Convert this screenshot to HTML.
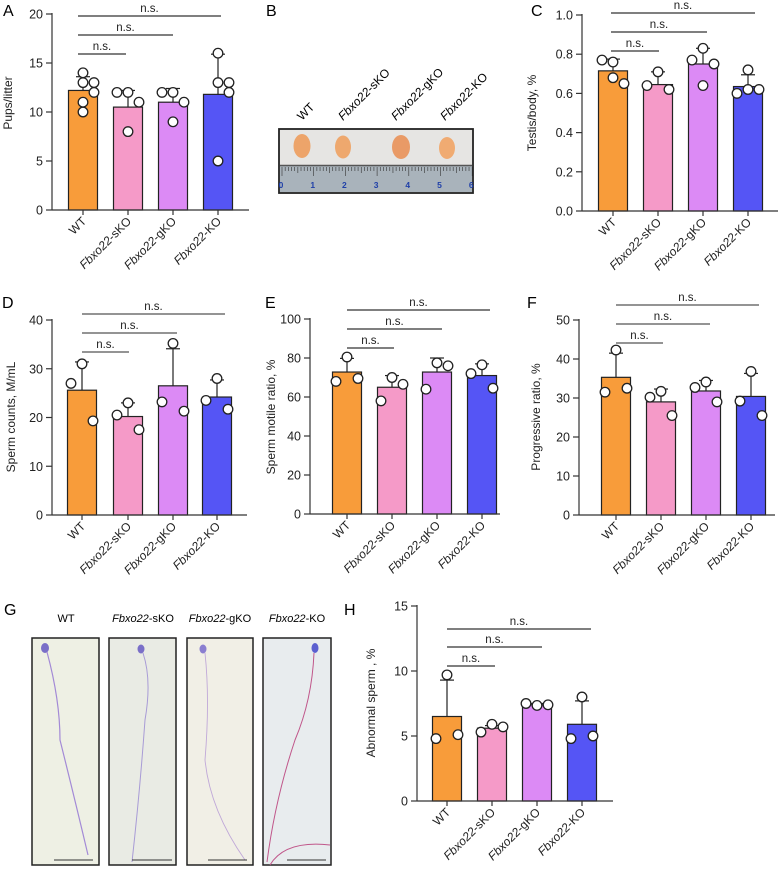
<!DOCTYPE html>
<html><head><meta charset="utf-8">
<style>
html,body{margin:0;padding:0;background:#fff;}
svg{display:block;font-family:"Liberation Sans",Arial,sans-serif;}
</style></head>
<body>
<svg id="fig" width="784" height="874" viewBox="0 0 784 874" xmlns="http://www.w3.org/2000/svg">
  <text x="3" y="16" font-size="16">A</text>
  <text x="266" y="16" font-size="16">B</text>
  <text x="531" y="16" font-size="16">C</text>
  <text x="2" y="308" font-size="16">D</text>
  <text x="265" y="308" font-size="16">E</text>
  <text x="527" y="308" font-size="16">F</text>
  <text x="4" y="615" font-size="16">G</text>
  <text x="344" y="615" font-size="16">H</text>

  <g>
    <text transform="translate(302,121) rotate(-45)" font-size="12">WT</text>
    <text transform="translate(343,121) rotate(-45)" font-size="12" font-style="italic">Fbxo22<tspan font-style="normal">-sKO</tspan></text>
    <text transform="translate(396,121) rotate(-45)" font-size="12" font-style="italic">Fbxo22<tspan font-style="normal">-gKO</tspan></text>
    <text transform="translate(445,121) rotate(-45)" font-size="12" font-style="italic">Fbxo22<tspan font-style="normal">-KO</tspan></text>
    <rect x="279" y="129" width="194" height="64" fill="#e6e5e3" stroke="#222" stroke-width="1.8"/>
    <rect x="280" y="165" width="192" height="27" fill="#a9b3bb"/>
    <line x1="280" y1="165.5" x2="472" y2="165.5" stroke="#555" stroke-width="1.5"/>
    <ellipse cx="302" cy="146" rx="8.5" ry="12" fill="#eda46a"/>
    <ellipse cx="343" cy="147" rx="8" ry="11.5" fill="#eea86e"/>
    <ellipse cx="401" cy="147" rx="9" ry="12" fill="#e99a66"/>
    <ellipse cx="447" cy="148" rx="8" ry="11" fill="#f0ab72"/>
    <g id="rulerTicks"></g>
  </g>

  <g>
    <text x="66" y="622" font-size="11" text-anchor="middle">WT</text>
    <text x="143" y="622" font-size="11" text-anchor="middle"><tspan font-style="italic">Fbxo22</tspan>-sKO</text>
    <text x="220" y="622" font-size="11" text-anchor="middle"><tspan font-style="italic">Fbxo22</tspan>-gKO</text>
    <text x="297" y="622" font-size="11" text-anchor="middle"><tspan font-style="italic">Fbxo22</tspan>-KO</text>
    <rect x="32" y="638" width="67" height="227" fill="#eef0e4" stroke="#222" stroke-width="1.5"/>
    <rect x="109" y="638" width="67" height="227" fill="#e9ebe4" stroke="#222" stroke-width="1.5"/>
    <rect x="187" y="638" width="66" height="227" fill="#f1efe6" stroke="#222" stroke-width="1.5"/>
    <rect x="263" y="638" width="68" height="227" fill="#e8ecee" stroke="#222" stroke-width="1.5"/>
    <ellipse cx="45" cy="648" rx="4" ry="5" fill="#7a6fc8"/>
    <path d="M47 652 Q60 700 60 740 Q75 800 88 855" stroke="#a38ad6" stroke-width="1.2" fill="none"/>
    <ellipse cx="141" cy="649" rx="3.5" ry="4.5" fill="#7a6fc8"/>
    <path d="M143 653 Q152 680 145 720 Q140 790 132 862" stroke="#a89bd6" stroke-width="1" fill="none"/>
    <ellipse cx="203" cy="649" rx="3.5" ry="4.5" fill="#8a7ed0"/>
    <path d="M205 653 Q210 700 205 760 Q210 810 245 860" stroke="#c0a8d8" stroke-width="0.9" fill="none"/>
    <ellipse cx="315" cy="648" rx="3.5" ry="5" fill="#5b60d0"/>
    <path d="M314 653 Q312 700 295 740 Q275 800 267 862" stroke="#c0568a" stroke-width="1" fill="none"/>
    <path d="M270 865 Q285 840 330 845" stroke="#c0568a" stroke-width="1" fill="none"/>
    <line x1="54" y1="860" x2="93" y2="860" stroke="#333" stroke-width="1"/>
    <line x1="132" y1="860" x2="172" y2="860" stroke="#333" stroke-width="1"/>
    <line x1="208" y1="860" x2="247" y2="860" stroke="#333" stroke-width="1"/>
    <line x1="287" y1="860" x2="326" y2="860" stroke="#333" stroke-width="1"/>
  </g>

  <g id="charts"></g>
</svg>
<script>
const categories = ["WT", "Fbxo22-sKO", "Fbxo22-gKO", "Fbxo22-KO"];
const barColors = ["#f89c3a", "#f59ac8", "#dc8af5", "#5555f5"];

const aMeans = [12.2, 10.5, 11.0, 11.8];
const aSD = [13.6, 12.2, 12.4, 15.9];
const aPoints = [[14, 13, 13, 12, 11, 10], [12, 12, 11, 8], [12, 12, 11, 9], [16, 13, 13, 12, 5]];
const aTicks = [0, 5, 10, 15, 20];

const cMeans = [0.715, 0.645, 0.75, 0.635];
const cSD = [0.775, 0.71, 0.83, 0.695];
const cPoints = [[0.76, 0.77, 0.65, 0.68], [0.71, 0.64, 0.62], [0.83, 0.77, 0.75, 0.64], [0.72, 0.60, 0.62, 0.62]];
const cTicks = [0.0, 0.2, 0.4, 0.6, 0.8, 1.0];

const dMeans = [25.6, 20.2, 26.5, 24.2];
const dSD = [31.4, 23.0, 34.1, 27.7];
const dPoints = [[31, 27, 19.3], [23, 20.5, 17.5], [35.2, 23.2, 21.3], [28, 23.5, 21.7]];
const dTicks = [0, 10, 20, 30, 40];

const eMeans = [72.8, 65.0, 72.8, 71.0];
const eSD = [79.8, 71.0, 80.0, 77.0];
const ePoints = [[80.5, 68, 69.5], [70, 58, 66.5], [77.5, 64, 76], [76.5, 72, 64.5]];
const eTicks = [0, 20, 40, 60, 80, 100];

const fMeans = [35.3, 29.0, 31.8, 30.4];
const fSD = [41.5, 32.3, 34.5, 36.3];
const fPoints = [[42.3, 31.5, 32.5], [31.7, 30.2, 25.5], [34.1, 32.7, 29], [36.8, 29.2, 25.5]];
const fTicks = [0, 10, 20, 30, 40, 50];

const hMeans = [6.5, 5.6, 7.4, 5.9];
const hSD = [9.3, 5.8, 7.5, 7.7];
const hPoints = [[9.7, 4.8, 5.1], [5.9, 5.3, 5.7], [7.35, 7.5, 7.4], [8.0, 4.8, 5.0]];
const hTicks = [0, 5, 10, 15];

const sigLabels = ["n.s.", "n.s.", "n.s."];

const NS = "http://www.w3.org/2000/svg";
const root = document.getElementById("charts");
function mk(tag, attrs, parent) {
  const e = document.createElementNS(NS, tag);
  for (const k in attrs) e.setAttribute(k, attrs[k]);
  (parent || root).appendChild(e);
  return e;
}

(function () {
  const g = document.getElementById("rulerTicks");
  for (let i = 0; i <= 60; i++) {
    const x = 282 + i * 3.17;
    const h = i % 10 === 0 ? 9 : (i % 5 === 0 ? 6 : 4);
    mk("line", { x1: x, y1: 167, x2: x, y2: 167 + h, stroke: "#333", "stroke-width": 0.6 }, g);
  }
  for (let i = 0; i <= 6; i++) {
    const t = mk("text", { x: 282 + i * 31.7 - 1, y: 188, "font-size": 8.5, fill: "#2040a8", "text-anchor": "middle", "font-weight": "bold" }, g);
    t.textContent = i;
  }
})();

function panel(cfg) {
  const g = mk("g", {});
  
  
  const { ax, y0, y1, vmax, xend, centers, bw } = cfg;
  const ys = v => y0 - (v / vmax) * (y0 - y1);
  const yl = mk("line", { x1: ax, y1: y1 - 1, x2: ax, y2: y0, stroke: "#333", "stroke-width": 1.2 }, g);
  
  
  cfg.ticks.forEach(t => {
    const y = ys(t);
    mk("line", { x1: ax - 6, y1: y, x2: ax, y2: y, stroke: "#333", "stroke-width": 1.2 }, g);
    const tx = mk("text", { x: ax - 9, y: y + 4.5, "font-size": 12.5, fill: "#222", "text-anchor": "end" }, g);
    tx.textContent = cfg.fmt ? t.toFixed(1) : t;
    
    
  });
  const yt = mk("text", { transform: `translate(${cfg.ytx},${cfg.yty}) rotate(-90)`, "font-size": 12, fill: "#222", "text-anchor": "middle" }, g);
  yt.textContent = cfg.ytitle;
  
  
  cfg.means.forEach((m, i) => {
    const cx = centers[i];
    const b = mk("rect", { x: cx - bw / 2, y: ys(m), width: bw, height: y0 - ys(m), fill: barColors[i], stroke: "#222", "stroke-width": 1.2 }, g);
    
    
    mk("line", { x1: cx, y1: ys(m), x2: cx, y2: ys(cfg.sd[i]), stroke: "#222", "stroke-width": 1.2 }, g);
    mk("line", { x1: cx - 7, y1: ys(cfg.sd[i]), x2: cx + 7, y2: ys(cfg.sd[i]), stroke: "#222", "stroke-width": 1.2 }, g);
    const pts = cfg.points[i];
    pts.forEach((p, j) => {
      let off;
      if (pts.length === 3) off = [0, -1, 1][j] * 11;
      else off = [0, 1, 0, 1, 0, 0][j % 6] * 11 - (pts.length === 4 ? 0 : 0);
      if (pts.length === 4) off = [0, -1, 1, 0][j] * 11;
      const c = mk("circle", { cx: cx + off, cy: ys(p), r: 4.8, fill: "#fff", stroke: "#222", "stroke-width": 1.3 }, g);
      
      
    });
  });
  const xl = mk("line", { x1: ax, y1: y0, x2: xend, y2: y0, stroke: "#333", "stroke-width": 1.2 }, g);
  
  
  centers.forEach((cx, i) => {
    mk("line", { x1: cx, y1: y0, x2: cx, y2: y0 + 5, stroke: "#333", "stroke-width": 1.2 }, g);
    const t = mk("text", { transform: `translate(${cx + 4},${y0 + 12}) rotate(-45)`, "font-size": 12, fill: "#222", "text-anchor": "end" }, g);
    const name = categories[i];
    if (name.indexOf("-") > 0) {
      const parts = name.split("-");
      const s1 = mk("tspan", { "font-style": "italic" }, t); s1.textContent = parts[0];
      const s2 = mk("tspan", {}, t); s2.textContent = "-" + parts[1];
    } else t.textContent = name;
    
    
  });
  cfg.sig.forEach((s, k) => {
    const l = mk("line", { x1: s[0], y1: s[2], x2: s[1], y2: s[2], stroke: cfg.sigColor || "#333", "stroke-width": 1.2 }, g);
    
    
    const t = mk("text", { x: (s[0] + s[1]) / 2, y: s[2] - 4, "font-size": 11.5, fill: "#222", "text-anchor": "middle" }, g);
    t.textContent = sigLabels[k];
    
    
  });
}

panel({ name: "chart-a-pups-per-litter", ax: 52, y0: 210, y1: 14, vmax: 20, xend: 249, centers: [83, 128, 173, 218], bw: 29,
  means: aMeans, sd: aSD, points: aPoints, ticks: aTicks, ytitle: "Pups/litter", ytx: 12, yty: 103,
  sig: [[78, 126, 54], [78, 173, 35], [78, 221, 16]] });
panel({ name: "chart-c-testis-body", ax: 582, y0: 211, y1: 15, vmax: 1.0, xend: 778, centers: [613, 658, 703, 748], bw: 29, fmt: true,
  means: cMeans, sd: cSD, points: cPoints, ticks: cTicks, ytitle: "Testis/body, %", ytx: 536, yty: 113,
  sig: [[611, 659, 51], [611, 707, 32], [611, 755, 13]] });
panel({ name: "chart-d-sperm-counts", ax: 52, y0: 515, y1: 320, vmax: 40, xend: 247, centers: [82, 128, 173, 217], bw: 29,
  means: dMeans, sd: dSD, points: dPoints, ticks: dTicks, ytitle: "Sperm counts, M/mL", ytx: 15, yty: 417,
  sig: [[82, 129, 352], [82, 177, 333], [82, 225, 314]], sigColor: "#555" });
panel({ name: "chart-e-sperm-motile", ax: 310, y0: 514, y1: 319, vmax: 100, xend: 500, centers: [347, 392, 437, 482], bw: 29,
  means: eMeans, sd: eSD, points: ePoints, ticks: eTicks, ytitle: "Sperm motile ratio, %", ytx: 275, yty: 417,
  sig: [[347, 394, 348], [347, 442, 329], [347, 490, 310]] });
panel({ name: "chart-f-progressive", ax: 579, y0: 515, y1: 320, vmax: 50, xend: 775, centers: [616, 661, 706, 751], bw: 29,
  means: fMeans, sd: fSD, points: fPoints, ticks: fTicks, ytitle: "Progressive ratio, %", ytx: 540, yty: 417,
  sig: [[616, 663, 343], [616, 710, 324], [616, 759, 305]], sigColor: "#555" });
panel({ name: "chart-h-abnormal-sperm", ax: 417, y0: 801, y1: 606, vmax: 15, xend: 613, centers: [447, 492, 537, 582], bw: 29,
  means: hMeans, sd: hSD, points: hPoints, ticks: hTicks, ytitle: "Abnormal sperm , %", ytx: 375, yty: 703,
  sig: [[447, 495, 666], [447, 542, 647], [447, 591, 629]] });
</script>
</body></html>
